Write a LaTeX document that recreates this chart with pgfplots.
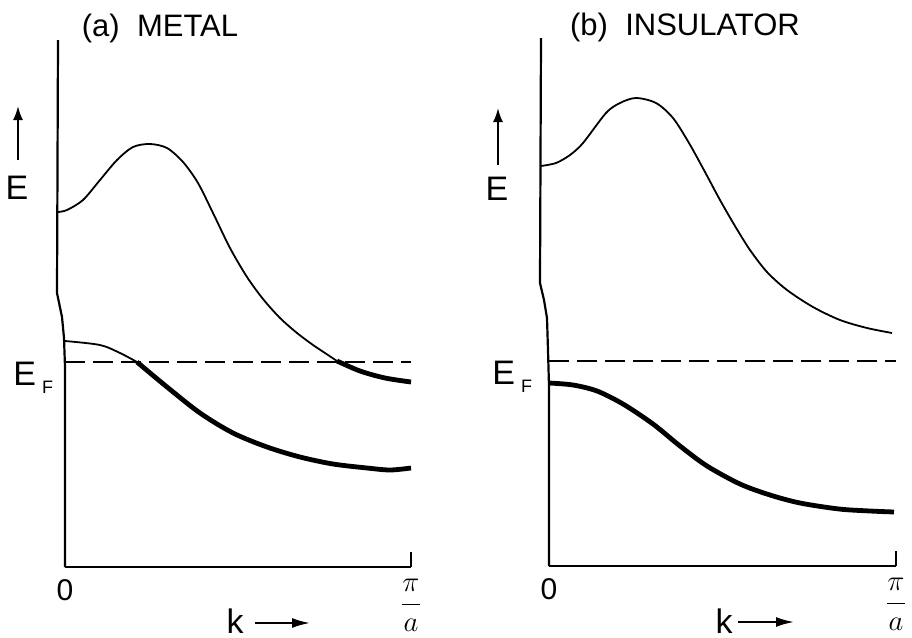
\documentclass[border=0pt]{standalone}
\usepackage{fontspec}
\setmainfont{Liberation Sans}
\usepackage{pgfplots}
\pgfplotsset{compat=1.18}
\usetikzlibrary{arrows.meta}

% shared look of both panels: 1 data unit = 0.5pt
\pgfplotsset{
  bandaxis/.style={
    scale only axis, clip=false, anchor=south west,
    xmin=0, ymin=0, ymax=530, height=265pt,
    axis x line=bottom, axis y line=none,
    axis line style={-, line width=1.1pt},
    x axis line style={-},
    every outer x axis line/.append style={-},
    ytick=\empty,
    tick align=inside, major tick length=7.5pt,
    major tick style={line width=1.1pt, black},
    xticklabel style={font=\fontsize{15}{15}\selectfont, inner sep=2pt, yshift=-4pt},
  },
  thin/.style={black, line width=0.9pt, smooth},
  thick/.style={black, line width=2.4pt, smooth},
  efermi/.style={black, line width=0.9pt, dash pattern=on 10pt off 4pt},
  frame/.style={black, line width=1.1pt},
}
\newcommand{\lab}{\fontsize{17}{17}\selectfont}
\newcommand{\ttl}{\fontsize{15.5}{15.5}\selectfont}
\newcommand{\pia}{\raisebox{3pt}{$\displaystyle\frac{\pi}{a}$}}

\begin{document}
\begin{tikzpicture}
\useasboundingbox (0,0) rectangle (456pt,-319pt);

% ---------------- (a) metal ----------------
\begin{axis}[bandaxis, at={(32.5pt,-283.5pt)}, xmax=346, width=173pt,
  xtick={0,346}, xticklabels={0,\pia}]
\addplot[frame] coordinates {(-7,527) (-8,274) (-3,250) (-1,229) (0,200) (0,0)};
\addplot[thin] coordinates {
(-7,355) (2,357) (18,367) (35,387) (52,407) (68,420) (85,423) (102,419)
(118,405) (133,384) (148,354) (165,319) (182,290) (198,268) (215,249)
(232,234) (248,222) (260,214) (272,206)};
\addplot[thick] coordinates {(272,206) (295,196) (320,189) (346,185)};
\addplot[thin] coordinates {(0,226) (35,222) (55,214) (72,205)};
\addplot[thick] coordinates {
(72,205) (102,180) (135,154) (168,134) (202,120) (235,110) (268,103)
(302,99) (325,97) (346,99)};
\addplot[efermi] coordinates {(0,205) (346,205)};

\node[font=\ttl, anchor=base] at (axis cs:95,531) {(a)\ \ METAL};
\node[font=\lab, anchor=base] at (axis cs:-48,368) {E};
\draw[line width=1pt, -{Latex[length=7pt,width=5pt]}] (axis cs:-47,407) -- (axis cs:-47,461);
\node[font=\lab, anchor=base west, inner sep=0pt] at (axis cs:-52,182)
  {E\hspace{3pt}\raisebox{-4pt}{\fontsize{9}{9}\selectfont F}};
\node[font=\lab, anchor=base, inner sep=0pt] at (axis cs:170,-66) {k};
\draw[line width=1pt, -{Latex[length=9pt,width=5pt]}] (axis cs:190,-56) -- (axis cs:245,-56);
\end{axis}

% ---------------- (b) insulator ----------------
\begin{axis}[bandaxis, at={(274.5pt,-283pt)}, xmax=347, width=173.5pt,
  xtick={0,347}, xticklabels={0,\pia}]
\addplot[frame] coordinates {(-8,528) (-9,283) (-5,266) (-2,248) (-1,216) (0,180) (0,0)};
\addplot[thin] coordinates {
(-8,400) (7,403) (21,411) (34,423) (57,453) (71,463) (87,468) (107,463)
(124,448) (140,423) (156,394) (171,366) (186,340) (201,316) (218,294)
(238,276) (264,259) (291,246) (318,238) (343,233)};
\addplot[thick] coordinates {
(0,183) (24,181) (48,175) (74,162) (104,142) (131,120) (158,100) (191,82)
(221,71) (251,63) (290,57) (321,55) (345,54)};
\addplot[efermi] coordinates {(0,205) (347,205)};

\node[font=\ttl, anchor=base] at (axis cs:136,531) {(b)\ \ INSULATOR};
\node[font=\lab, anchor=base] at (axis cs:-52,366) {E};
\draw[line width=1pt, -{Latex[length=7pt,width=5pt]}] (axis cs:-51,401) -- (axis cs:-51,458);
\node[font=\lab, anchor=base west, inner sep=0pt] at (axis cs:-57,182)
  {E\hspace{3pt}\raisebox{-4pt}{\fontsize{9}{9}\selectfont F}};
\node[font=\lab, anchor=base, inner sep=0pt] at (axis cs:175,-67) {k};
\draw[line width=1pt, -{Latex[length=9pt,width=5pt]}] (axis cs:189,-56) -- (axis cs:245,-56);
\end{axis}
\end{tikzpicture}
\end{document}
